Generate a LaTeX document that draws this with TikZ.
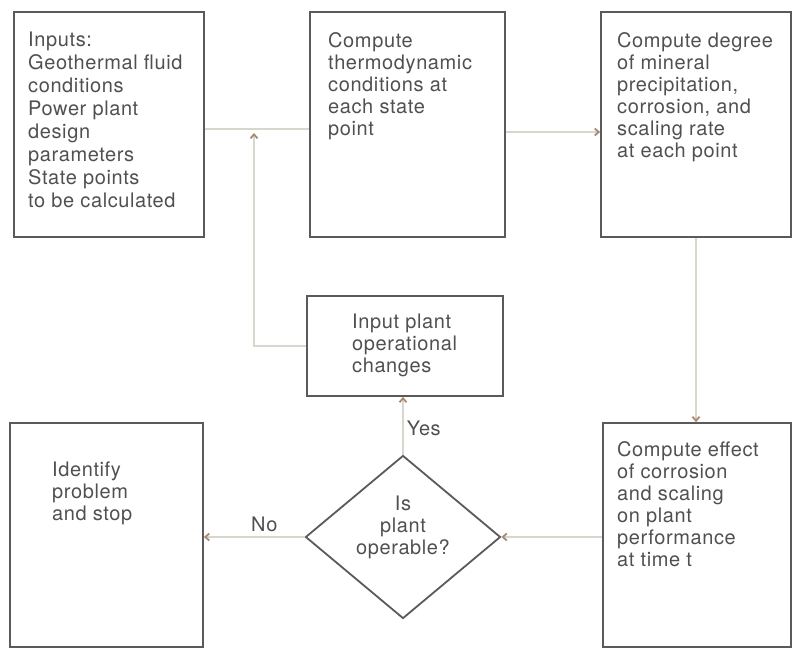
\documentclass[tikz,border=0pt]{standalone}
\usepackage{fontspec}
\setmainfont[LetterSpace=3]{TeX Gyre Heros}
\usetikzlibrary{shapes.geometric,arrows.meta,positioning}
\definecolor{boxgray}{HTML}{5A5A5A}
\definecolor{linegray}{HTML}{D6D8CE}
\definecolor{tipbrown}{HTML}{A68A72}
\definecolor{textgray}{HTML}{505050}
\tikzset{
    %Define standard arrow tip
    >={Straight Barb[length=4pt,width=7pt,color=tipbrown]},
    %Define style for boxes
    stepbox/.style={
           rectangle,
           draw=boxgray,
           line width=1.8pt,
           inner sep=0pt},
    decide/.style={
           diamond,
           draw=boxgray,
           line width=1.8pt,
           inner sep=0pt,
           minimum width=195pt,
           minimum height=163pt},
    boxtext/.style={
           anchor=north west,
           inner sep=0pt,
           align=left,
           text=textgray,
           font=\fontsize{20}{22}\selectfont},
    % Define arrow style
    pil/.style={
           draw=linegray,
           line width=1.8pt}
}

\begin{document}
\begin{tikzpicture}[x=1pt, y=1pt]
 \useasboundingbox (0,0) rectangle (792,649);

 % top row
 \node [stepbox, minimum width=190pt, minimum height=225pt] (inputs) at (109,524.5) {};
 \node [stepbox, minimum width=195pt, minimum height=225pt, right of=inputs, node distance=298.5pt] (thermo) {};
 \node [stepbox, minimum width=190pt, minimum height=225pt, right of=thermo, node distance=288.5pt] (mineral) {};
 \node [boxtext, font=\fontsize{20}{23}\selectfont] (inputstext) at (28,617)
   {Inputs:\\Geothermal fluid\\conditions\\Power plant\\design\\parameters\\State points\\to be calculated};
 \node [boxtext] (thermotext) at (328,617)
   {Compute\\thermodynamic\\conditions at\\each state\\point};
 \node [boxtext] (mineraltext) at (617,617)
   {Compute degree\\of mineral\\precipitation,\\corrosion, and\\scaling rate\\at each point};

 % middle
 \node [stepbox, minimum width=196pt, minimum height=100pt] (plantchg) at (405,303) {};
 \node [boxtext] (plantchgtext) at (352,335) {Input plant\\operational\\changes};

 % bottom row
 \node [stepbox, minimum width=193pt, minimum height=224pt] (identify) at (106.5,114) {};
 \node [stepbox, minimum width=188pt, minimum height=224pt] (effect) at (697,114) {};
 \node [decide] (operable) at (403,112) {};
 \node [boxtext] (identifytext) at (52,187) {Identify\\problem\\and stop};
 \node [boxtext] (effecttext) at (617,208)
   {Compute effect\\of corrosion\\and scaling\\on plant\\performance\\at time t};
 \node [boxtext, anchor=center, align=center] (operabletext) at (403,122) {Is\\plant\\operable?};

 \coordinate (join) at (254,516);

 % paths
 \draw [pil] ([yshift=-4.5pt]inputs.east) -- ([yshift=-4.5pt]thermo.west);
 \draw [pil, ->] ([yshift=-7.5pt]thermo.east) -- ([yshift=-7.5pt]mineral.west);
 \draw [pil, ->] (mineral.south) -- (mineral.south |- effect.north);
 \draw [pil, ->] (effect.west |- operable.east) -- (operable.east);
 \draw [pil, ->] (operable.west) -- (operable.west -| identify.east)
   node [pos=0.4, above=4pt, inner sep=0pt, text=textgray, font=\fontsize{20}{22}\selectfont] (nolabel) {No};
 \draw [pil, ->] (operable.north) -- (operable.north |- plantchg.south)
   node [pos=0.45, right=3pt, inner sep=0pt, text=textgray, font=\fontsize{20}{22}\selectfont] (yeslabel) {Yes};
 \draw [pil, ->] (plantchg.west) -| (join);
\end{tikzpicture}
\end{document}
